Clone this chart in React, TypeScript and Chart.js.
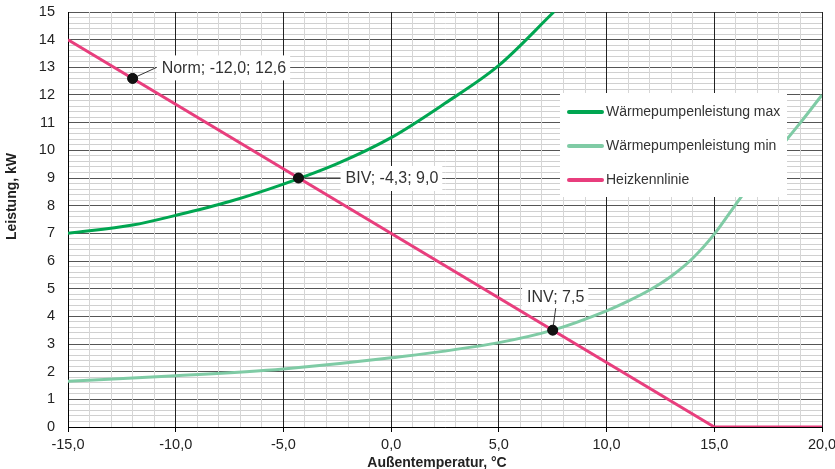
import React, { useEffect, useRef } from 'react';
import { Chart, registerables } from 'chart.js';

Chart.register(...registerables);

// ---- Data ----
const maxTemps = [-15, -12, -10, -7.5, -5, -2.5, 0, 2.5, 5, 7.55];
const maxPower = [7.0, 7.3, 7.65, 8.15, 8.78, 9.52, 10.46, 11.7, 13.07, 15.0];

const minTemps = [-15, -10, -5, 0, 5, 7.5, 10, 11, 12, 13, 14, 15, 16, 17, 18, 19, 20];
const minPower = [1.65, 1.85, 2.1, 2.5, 3.05, 3.5, 4.2, 4.55, 4.95, 5.45, 6.1, 6.97, 8.05, 9.1, 10.05, 11.0, 12.0];

const heatTemps = [-15, 15, 20];
const heatPower = [14.0, 0.0, 0.0];

const seriesLabels = ['Wärmepumpenleistung max', 'Wärmepumpenleistung min', 'Heizkennlinie'];

const annoLabels = ['Norm; -12,0; 12,6', 'BIV; -4,3; 9,0', 'INV; 7,5'];
const annoX = [-12.0, -4.3, 7.5];
const annoY = [12.6, 9.0, 3.5];

const xTitle = 'Außentemperatur, °C';
const yTitle = 'Leistung, kW';

// ---- Styles ----
const FONT = '"Liberation Sans", Arial, Helvetica, sans-serif';
const COL_MAX = '#00a651';
const COL_MIN = '#7fcba5';
const COL_HEAT = '#e83e7d';
const SERIES_COLORS = [COL_MAX, COL_MIN, COL_HEAT];

const isInt = (v: number) => Math.abs(v - Math.round(v)) < 1e-6;
const isMajorX = (v: number) => isInt(v / 5);

const overlayPlugin = {
  id: 'overlay',
  afterDatasetsDraw(chart: any) {
    const ctx = chart.ctx as CanvasRenderingContext2D;
    const xs = chart.scales.x;
    const ys = chart.scales.y;
    const area = chart.chartArea;
    ctx.save();
    ctx.font = `16px ${FONT}`;
    ctx.textBaseline = 'middle';
    ctx.textAlign = 'left';
    const offs: [number, number, string][] = [
      [29, -11, 'left'],
      [47, 0, 'left'],
      [3, -34, 'center'],
    ];
    annoLabels.forEach((t, i) => {
      const px = xs.getPixelForValue(annoX[i]);
      const py = ys.getPixelForValue(annoY[i]);
      const w = ctx.measureText(t).width;
      const [dx, dy, mode] = offs[i];
      const tx = mode === 'center' ? px + dx - w / 2 : px + dx;
      const ty = py + dy;
      ctx.fillStyle = '#ffffff';
      ctx.fillRect(tx - 5, ty - 12, w + 9, 25);
      ctx.strokeStyle = '#333333';
      ctx.lineWidth = 1;
      ctx.beginPath();
      ctx.moveTo(px, py);
      if (mode === 'center') ctx.lineTo(px + 3, ty + 12);
      else ctx.lineTo(tx - 5, ty);
      ctx.stroke();
      ctx.fillStyle = '#333333';
      ctx.fillText(t, tx, ty + 1);
    });
    const meta = chart.getDatasetMeta(3);
    meta.data.forEach((el: any) => {
      ctx.fillStyle = '#111111';
      ctx.beginPath();
      ctx.arc(el.x, el.y, 5, 0, Math.PI * 2);
      ctx.fill();
    });

    // legend
    ctx.font = `14px ${FONT}`;
    const lx = area.right - 262;
    const ly = area.top + 81;
    ctx.fillStyle = '#ffffff';
    ctx.fillRect(lx, ly, 227, 104);
    seriesLabels.forEach((lab, i) => {
      const rowY = ly + 19 + i * 34;
      ctx.strokeStyle = SERIES_COLORS[i];
      ctx.lineWidth = 4;
      ctx.lineCap = 'round';
      ctx.beginPath();
      ctx.moveTo(lx + 9, rowY);
      ctx.lineTo(lx + 42, rowY);
      ctx.stroke();
      ctx.fillStyle = '#333333';
      ctx.fillText(lab, lx + 46, rowY);
    });
    ctx.restore();
  },
  afterDraw(chart: any) {
    const ctx = chart.ctx as CanvasRenderingContext2D;
    const area = chart.chartArea;
    ctx.save();
    ctx.fillStyle = '#222222';
    ctx.font = `bold 14px ${FONT}`;
    ctx.textAlign = 'center';
    ctx.textBaseline = 'middle';
    ctx.fillText(xTitle, (area.left + area.right) / 2 - 8, 463);
    ctx.translate(12, (area.top + area.bottom) / 2 - 23);
    ctx.rotate(-Math.PI / 2);
    ctx.fillText(yTitle, 0, 0);
    ctx.restore();
  },
};

export default function App() {
  const ref = useRef<HTMLCanvasElement>(null);
  useEffect(() => {
    document.body.style.margin = '0';
    const canvas = ref.current!;
    const toPts = (xs: number[], ys: number[]) => xs.map((x, i) => ({ x, y: ys[i] }));
    const chart = new Chart(canvas, {
      type: 'scatter',
      data: {
        datasets: [
          {
            label: seriesLabels[0],
            data: toPts(maxTemps, maxPower),
            showLine: true,
            borderColor: COL_MAX,
            borderWidth: 3,
            pointRadius: 0,
            cubicInterpolationMode: 'monotone',
            order: 2,
          },
          {
            label: seriesLabels[1],
            data: toPts(minTemps, minPower),
            showLine: true,
            borderColor: COL_MIN,
            borderWidth: 3,
            pointRadius: 0,
            cubicInterpolationMode: 'monotone',
            order: 3,
          },
          {
            label: seriesLabels[2],
            data: toPts(heatTemps, heatPower),
            showLine: true,
            borderColor: COL_HEAT,
            borderWidth: 3,
            pointRadius: 0,
            tension: 0,
            order: 1,
          },
          {
            label: 'points',
            data: toPts(annoX, annoY),
            showLine: false,
            pointRadius: 5,
            backgroundColor: '#111111',
            borderColor: '#111111',
            order: 0,
          },
        ] as any,
      },
      options: {
        responsive: false,
        animation: false,
        layout: { padding: { left: 0, top: 12, right: 13, bottom: 0 } },
        plugins: {
          legend: { display: false },
          tooltip: { enabled: false },
        },
        scales: {
          x: {
            type: 'linear',
            min: -15,
            max: 20,
            afterFit: (s: any) => {
              s.height = 42;
              s.paddingLeft = 0;
              s.paddingRight = 0;
            },
            border: { color: '#000000', width: 1 },
            grid: {
              z: -1,
              color: (c: any) => (c.tick && isMajorX(c.tick.value) ? '#222222' : '#d6d6d6'),
              tickColor: (c: any) => (c.tick && isMajorX(c.tick.value) ? '#000000' : 'rgba(0,0,0,0)'),
              tickLength: 5,
              lineWidth: 1,
            },
            ticks: {
              stepSize: 1,
              autoSkip: false,
              maxRotation: 0,
              padding: 4,
              color: '#222222',
              font: { family: FONT, size: 14.5 },
              callback: (v: any) => (isMajorX(Number(v)) ? Number(v).toFixed(1).replace('.', ',') : ''),
            },
            title: { display: false },
          },
          y: {
            type: 'linear',
            min: 0,
            max: 15,
            afterFit: (s: any) => {
              s.width = 68;
              s.paddingTop = 0;
              s.paddingBottom = 0;
            },
            border: { color: '#000000', width: 1 },
            grid: {
              z: -2,
              color: (c: any) => (c.tick && isInt(c.tick.value) ? '#555555' : '#d0d0d0'),
              drawTicks: false,
              lineWidth: 1,
            },
            ticks: {
              stepSize: 0.2,
              autoSkip: false,
              padding: 13,
              color: '#222222',
              font: { family: FONT, size: 14.5 },
              callback: (v: any) => (isInt(Number(v)) ? String(Math.round(Number(v))) : ''),
            },
            title: { display: false },
          },
        },
      } as any,
      plugins: [overlayPlugin],
    });
    return () => chart.destroy();
  }, []);
  return (
    <div style={{ width: 835, height: 469 }}>
      <canvas ref={ref} width={835} height={469} style={{ display: 'block', width: 835, height: 469 }} />
    </div>
  );
}
